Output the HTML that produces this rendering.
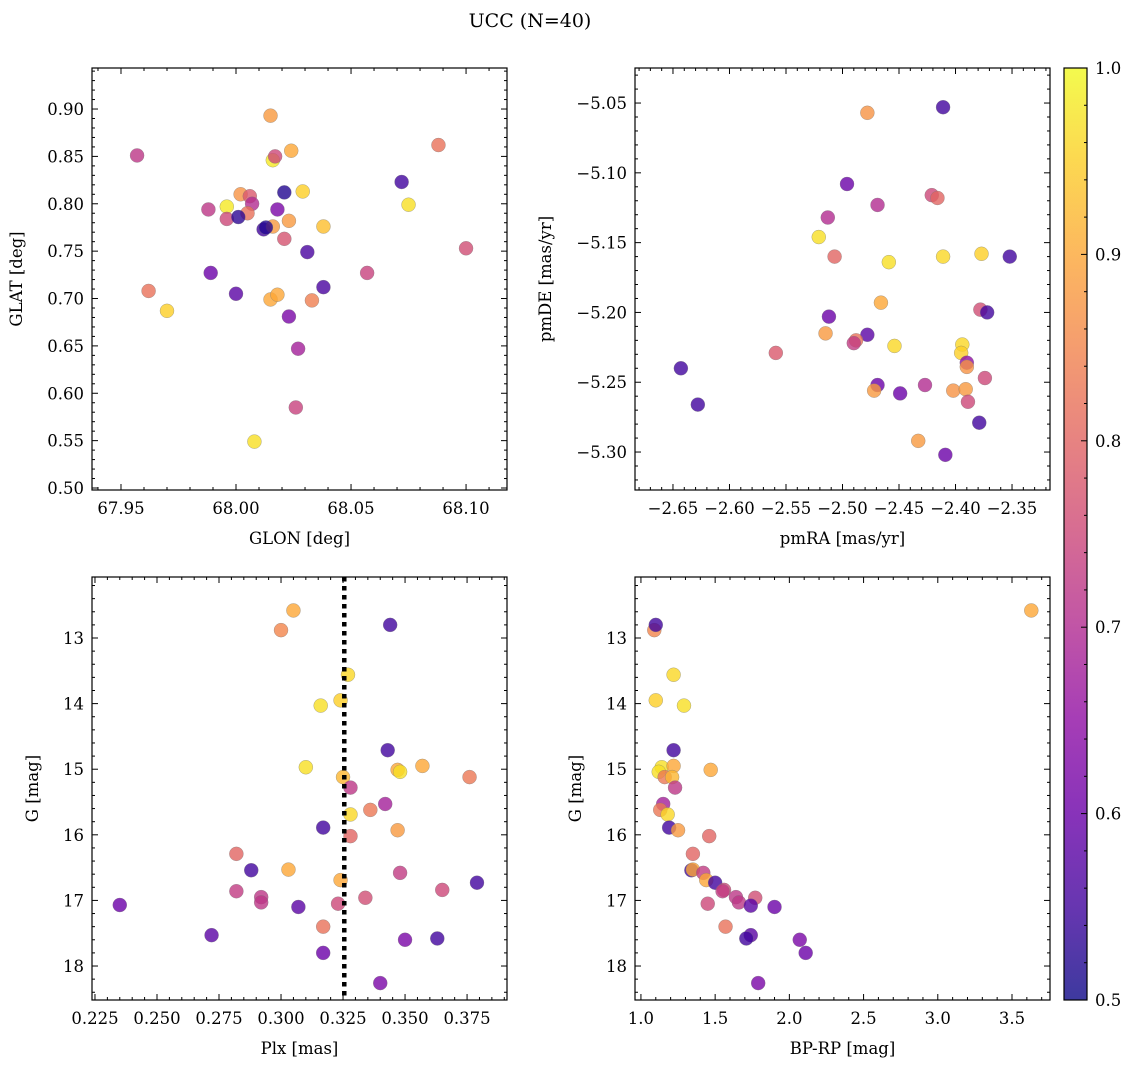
<!DOCTYPE html>
<html><head><meta charset="utf-8"><style>
body{margin:0;background:#fff}
svg text{font-family:"DejaVu Serif","Liberation Serif",serif;fill:#000}
</style></head><body>
<svg id="chart" width="1136" height="1067" viewBox="0 0 1136 1067" xmlns="http://www.w3.org/2000/svg">
<defs><linearGradient id="plasma" x1="0" y1="1" x2="0" y2="0"></linearGradient></defs>
<text x="530" y="27" font-size="19" text-anchor="middle">UCC (N=40)</text>
</svg>
<script>
const glon=[67.957,68.015,68.016,68.017,68.024,68.088,68.072,68.075,68.029,68.021,68.002,68.006,67.996,67.988,68.007,68.018,67.996,68.005,68.001,68.012,68.016,68.023,68.038,68.021,68.031,68.100,67.989,68.057,67.962,68.000,68.038,68.015,68.018,68.033,67.970,68.023,68.027,68.026,68.008,68.013];
const glat=[0.851,0.893,0.846,0.850,0.856,0.862,0.823,0.799,0.813,0.812,0.810,0.808,0.797,0.794,0.800,0.794,0.784,0.790,0.786,0.773,0.776,0.782,0.776,0.763,0.749,0.753,0.727,0.727,0.708,0.705,0.712,0.699,0.704,0.698,0.687,0.681,0.647,0.585,0.549,0.775];
const prob1=[0.72,0.88,0.98,0.75,0.9,0.82,0.55,0.97,0.95,0.52,0.87,0.78,0.98,0.72,0.7,0.62,0.75,0.82,0.53,0.55,0.88,0.88,0.93,0.77,0.56,0.76,0.6,0.74,0.82,0.58,0.56,0.9,0.9,0.84,0.95,0.62,0.68,0.74,0.97,0.52];
const pmra=[-2.478,-2.411,-2.496,-2.421,-2.416,-2.469,-2.513,-2.521,-2.507,-2.459,-2.411,-2.377,-2.352,-2.466,-2.378,-2.372,-2.512,-2.515,-2.478,-2.488,-2.490,-2.454,-2.394,-2.395,-2.559,-2.643,-2.390,-2.390,-2.374,-2.469,-2.427,-2.472,-2.449,-2.402,-2.391,-2.389,-2.628,-2.379,-2.433,-2.409];
const pmde=[-5.057,-5.053,-5.108,-5.116,-5.118,-5.123,-5.132,-5.146,-5.160,-5.164,-5.160,-5.158,-5.160,-5.193,-5.198,-5.200,-5.203,-5.215,-5.216,-5.220,-5.222,-5.224,-5.223,-5.229,-5.229,-5.240,-5.236,-5.239,-5.247,-5.252,-5.252,-5.256,-5.258,-5.256,-5.255,-5.264,-5.266,-5.279,-5.292,-5.302];
const prob2=[0.87,0.55,0.6,0.75,0.8,0.7,0.7,0.97,0.8,0.97,0.96,0.95,0.55,0.9,0.76,0.55,0.6,0.88,0.58,0.82,0.73,0.96,0.96,0.95,0.78,0.55,0.65,0.87,0.75,0.6,0.7,0.88,0.6,0.87,0.88,0.75,0.55,0.55,0.88,0.6];
const plx=[0.305,0.300,0.344,0.327,0.324,0.316,0.343,0.310,0.357,0.347,0.348,0.376,0.325,0.328,0.342,0.336,0.328,0.317,0.347,0.328,0.282,0.288,0.303,0.348,0.324,0.379,0.365,0.282,0.292,0.334,0.292,0.323,0.235,0.307,0.317,0.272,0.350,0.363,0.317,0.340];
const gmag=[12.58,12.88,12.80,13.56,13.95,14.03,14.71,14.97,14.95,15.01,15.04,15.12,15.12,15.28,15.53,15.62,15.69,15.89,15.93,16.02,16.29,16.54,16.53,16.58,16.69,16.73,16.84,16.86,16.95,16.96,17.03,17.05,17.07,17.10,17.40,17.53,17.60,17.58,17.80,18.26];
const prob3=[0.9,0.85,0.55,0.96,0.95,0.97,0.55,0.97,0.9,0.9,0.97,0.83,0.92,0.72,0.68,0.83,0.96,0.55,0.88,0.8,0.8,0.55,0.9,0.73,0.9,0.55,0.75,0.73,0.72,0.76,0.72,0.75,0.6,0.58,0.82,0.58,0.62,0.55,0.6,0.62];
const bprp=[3.63,1.09,1.10,1.22,1.10,1.29,1.22,1.14,1.22,1.47,1.12,1.16,1.21,1.23,1.15,1.13,1.18,1.19,1.25,1.46,1.35,1.34,1.35,1.42,1.44,1.50,1.56,1.55,1.64,1.77,1.66,1.45,1.90,1.74,1.57,1.74,2.07,1.71,2.11,1.79];
const gmag4=[12.58,12.88,12.80,13.56,13.95,14.03,14.71,14.97,14.95,15.01,15.04,15.12,15.12,15.28,15.53,15.62,15.69,15.89,15.93,16.02,16.29,16.54,16.53,16.58,16.69,16.73,16.84,16.86,16.95,16.96,17.03,17.05,17.10,17.08,17.40,17.53,17.60,17.58,17.80,18.26];
const prob4=[0.9,0.85,0.55,0.96,0.95,0.97,0.55,0.97,0.9,0.9,0.97,0.83,0.92,0.72,0.68,0.83,0.96,0.55,0.88,0.8,0.8,0.55,0.9,0.73,0.9,0.55,0.75,0.73,0.72,0.76,0.72,0.75,0.6,0.58,0.82,0.58,0.62,0.55,0.6,0.62];
const plxLine=0.3255;
const cbTicks=[0.5,0.6,0.7,0.8,0.9,1.0];

const NS="http://www.w3.org/2000/svg";
const svg=document.getElementById('chart');
const stops=[[0,13,8,135],[0.1,65,4,157],[0.2,106,0,168],[0.3,143,13,164],[0.4,177,42,144],[0.5,204,71,120],[0.6,225,100,98],[0.7,242,132,75],[0.8,252,166,54],[0.9,252,206,37],[1,240,249,33]];
function cmap(v){let t=Math.max(0,Math.min(1,(v-0.5)/0.5));for(let i=1;i<stops.length;i++){if(t<=stops[i][0]){const a=stops[i-1],b=stops[i],f=(t-a[0])/(b[0]-a[0]);return `rgb(${Math.round(a[1]+f*(b[1]-a[1]))},${Math.round(a[2]+f*(b[2]-a[2]))},${Math.round(a[3]+f*(b[3]-a[3]))})`;}}return 'rgb(240,249,33)';}
function el(tag,attrs,parent){const e=document.createElementNS(NS,tag);for(const k in attrs)e.setAttribute(k,attrs[k]);(parent||svg).appendChild(e);return e;}
const grad=svg.querySelector('#plasma');
stops.forEach(s=>el('stop',{offset:s[0],'stop-color':`rgb(${s[1]},${s[2]},${s[3]})`,'stop-opacity':0.8},grad));
function fmt(v,d){const s=Math.abs(v).toFixed(d);return (v< -1e-9?'\u2212':'')+s;}
const FS=16.5;

function panel(o){
  const g=el('g',{});
  
  
  const X=v=>o.x0+(v-o.xmin)/(o.xmax-o.xmin)*(o.x1-o.x0);
  const Y=o.yrev?(v=>o.y0+(v-o.ymin)/(o.ymax-o.ymin)*(o.y1-o.y0)):(v=>o.y1-(v-o.ymin)/(o.ymax-o.ymin)*(o.y1-o.y0));
  const tg=el('g',{stroke:'#000','stroke-width':1},g);
  for(let k=Math.ceil(o.xmin/o.xminor-1e-6);k*o.xminor<=o.xmax+1e-9;k++){const v=k*o.xminor;const px=X(v);const major=Math.abs(Math.round(v/o.xmajor)*o.xmajor-v)<o.xminor/10;const L=major?6:3;
    el('line',{x1:px,x2:px,y1:o.y1,y2:o.y1-L},tg);el('line',{x1:px,x2:px,y1:o.y0,y2:o.y0+L},tg);
    if(major){const t=el('text',{x:px,y:o.y1+24,'font-size':FS,'text-anchor':'middle',stroke:'none'},g);t.textContent=fmt(v,o.xd);}}
  for(let k=Math.ceil(Math.min(o.ymin,o.ymax)/o.yminor-1e-6);k*o.yminor<=Math.max(o.ymin,o.ymax)+1e-9;k++){const v=k*o.yminor;const py=Y(v);const major=Math.abs(Math.round(v/o.ymajor)*o.ymajor-v)<o.yminor/10;const L=major?6:3;
    el('line',{x1:o.x0,x2:o.x0+L,y1:py,y2:py},tg);el('line',{x1:o.x1,x2:o.x1-L,y1:py,y2:py},tg);
    if(major){const t=el('text',{x:o.x0-8,y:py+6,'font-size':FS,'text-anchor':'end',stroke:'none'},g);t.textContent=fmt(v,o.yd);}}
  const pts=el('g',{},g);
  
  
  o.xs.forEach((xv,i)=>{const c=el('circle',{cx:X(xv),cy:Y(o.ys[i]),r:7,fill:cmap(o.ps[i]),'fill-opacity':0.8,stroke:'#777','stroke-width':0.5,'stroke-opacity':0.6},pts);
    
    });
  if(o.vline!==undefined){const l=el('line',{x1:X(o.vline),x2:X(o.vline),y1:o.y0,y2:o.y1,stroke:'#000','stroke-width':4.5,'stroke-dasharray':'4.5,4.5'},g);
    
    }
  el('rect',{x:o.x0,y:o.y0,width:o.x1-o.x0,height:o.y1-o.y0,fill:'none',stroke:'#000','stroke-width':1.2},g);
  const xl=el('text',{x:(o.x0+o.x1)/2,y:o.y1+54,'font-size':FS,'text-anchor':'middle'},g);xl.textContent=o.xlabel;
  
  
  const yx=o.x0-o.ylabOff;const yy=(o.y0+o.y1)/2;
  const yl=el('text',{x:yx,y:yy,'font-size':FS,'text-anchor':'middle',transform:`rotate(-90 ${yx} ${yy})`},g);yl.textContent=o.ylabel;
  
  
}
panel({name:'glon-glat-panel',x0:92,x1:507,y0:68,y1:490,xmin:67.9374,xmax:68.1178,ymin:0.4979,ymax:0.9433,xmajor:0.05,xminor:0.01,ymajor:0.05,yminor:0.01,xd:2,yd:2,xs:glon,ys:glat,ps:prob1,xlabel:'GLON [deg]',ylabel:'GLAT [deg]',ylabOff:70});
panel({name:'pm-panel',x0:635,x1:1050,y0:68,y1:490,xmin:-2.6836,xmax:-2.3164,ymin:-5.3272,ymax:-5.0249,xmajor:0.05,xminor:0.01,ymajor:0.05,yminor:0.01,xd:2,yd:2,xs:pmra,ys:pmde,ps:prob2,xlabel:'pmRA [mas/yr]',ylabel:'pmDE [mas/yr]',ylabOff:84});
panel({name:'plx-g-panel',x0:92,x1:507,y0:577,y1:1000,xmin:0.2238,xmax:0.3911,ymin:12.07,ymax:18.518,yrev:true,xmajor:0.025,xminor:0.005,ymajor:1,yminor:0.2,xd:3,yd:0,xs:plx,ys:gmag,ps:prob3,xlabel:'Plx [mas]',ylabel:'G [mag]',ylabOff:54,vline:plxLine});
panel({name:'cmd-panel',x0:635,x1:1050,y0:577,y1:1000,xmin:0.96,xmax:3.756,ymin:12.07,ymax:18.518,yrev:true,xmajor:0.5,xminor:0.1,ymajor:1,yminor:0.2,xd:1,yd:0,xs:bprp,ys:gmag4,ps:prob4,xlabel:'BP-RP [mag]',ylabel:'G [mag]',ylabOff:54});

const cb=el('g',{});


const cy0=68,cy1=1000,cx0=1064,cx1=1087;
el('rect',{x:cx0,y:cy0,width:cx1-cx0,height:cy1-cy0,fill:'url(#plasma)',stroke:'#000','stroke-width':1.2},cb);
const CY=v=>cy1-(v-0.5)/0.5*(cy1-cy0);
for(let k=25;k<=50;k++){const v=k*0.02;const py=CY(v);const major=k%5==0;el('line',{x1:cx1,x2:cx1-(major?6:3),y1:py,y2:py,stroke:'#000','stroke-width':1},cb);}
cbTicks.forEach(v=>{const t=el('text',{x:cx1+8,y:CY(v)+6,'font-size':FS},cb);t.textContent=v.toFixed(1);
  
  });
</script>
</body></html>
